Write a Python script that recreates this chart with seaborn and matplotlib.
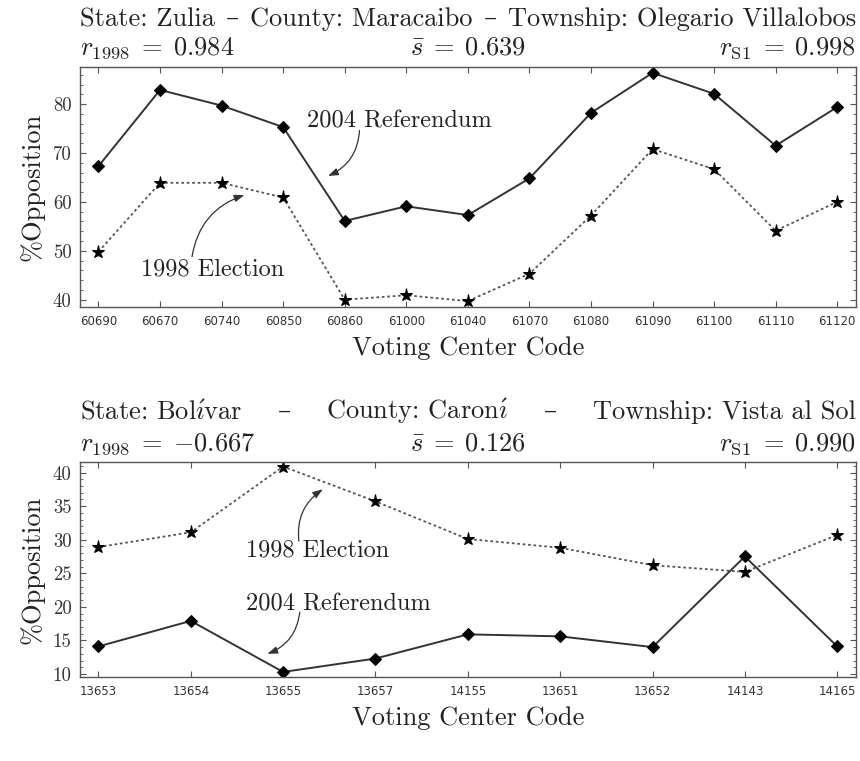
import matplotlib
matplotlib.use("Agg")
import matplotlib.pyplot as plt
import seaborn as sns
import pandas as pd
from matplotlib.ticker import MultipleLocator

# ---------------- data ----------------
zulia_codes = ["60690", "60670", "60740", "60850", "60860", "61000", "61040",
               "61070", "61080", "61090", "61100", "61110", "61120"]
zulia_2004 = [67.3, 82.9, 79.7, 75.3, 56.1, 59.1, 57.3, 64.8, 78.2, 86.4, 82.1, 71.5, 79.4]
zulia_1998 = [49.8, 63.9, 63.9, 60.9, 40.0, 40.9, 39.7, 45.3, 57.2, 70.8, 66.7, 54.1, 60.0]

bolivar_codes = ["13653", "13654", "13655", "13657", "14155", "13651", "13652", "14143", "14165"]
bolivar_2004 = [14.1, 17.9, 10.3, 12.3, 15.9, 15.6, 14.0, 27.5, 14.1]
bolivar_1998 = [28.9, 31.1, 40.9, 35.7, 30.1, 28.8, 26.2, 25.2, 30.7]

zulia_title = ["State: Zulia", "\u2013", "County: Maracaibo", "\u2013", "Township: Olegario Villalobos"]
bolivar_title = [r"State: Bol$\acute{\imath}$var", "\u2013", r"County: Caron$\acute{\imath}$",
                 "\u2013", "Township: Vista al Sol"]
zulia_stats = [r"$r_{1998}\;=\;0.984$", r"$\bar{s}\;=\;0.639$", r"$r_{\mathrm{S1}}\;=\;0.998$"]
bolivar_stats = [r"$r_{1998}\;=\;{-0.667}$", r"$\bar{s}\;=\;0.126$", r"$r_{\mathrm{S1}}\;=\;0.990$"]

# ---------------- style ----------------
sns.set_theme(style="white")
plt.rcParams["font.family"] = ["cmr10", "DejaVu Serif"]
plt.rcParams["mathtext.fontset"] = "cm"
plt.rcParams["axes.formatter.use_mathtext"] = True
plt.rcParams["axes.unicode_minus"] = True

FRAME = "#555555"
TC = "#222222"
fig = plt.figure(figsize=(8.6, 7.61), dpi=100)
ax1 = fig.add_axes([0.093, 0.5966, 0.902, 0.3154])
ax2 = fig.add_axes([0.093, 0.1104, 0.902, 0.2825])


def draw(ax, codes, v2004, v1998, ylim, xlim, yticks, yminor):
    df = pd.DataFrame({"pos": list(range(len(codes))) * 2,
                       "val": list(v2004) + list(v1998),
                       "series": ["2004"] * len(codes) + ["1998"] * len(codes)})
    sns.lineplot(data=df[df.series == "1998"], x="pos", y="val", ax=ax, sort=False,
                 color="#555555", linestyle=(0, (1.5, 1.5)), linewidth=1.3,
                 marker="*", markersize=9.5, markerfacecolor="black",
                 markeredgecolor="black", legend=False)
    sns.lineplot(data=df[df.series == "2004"], x="pos", y="val", ax=ax, sort=False,
                 color="#333333", linestyle="-", linewidth=1.4,
                 marker="D", markersize=6, markerfacecolor="black",
                 markeredgecolor="black", legend=False)
    ax.set_xlim(*xlim)
    ax.set_ylim(*ylim)
    ax.set_xticks(range(len(codes)))
    ax.set_xticklabels(codes, fontfamily=["Liberation Sans Narrow", "DejaVu Sans"],
                       fontsize=8.5, color="#333333")
    ax.set_yticks(yticks)
    ax.set_yticklabels([str(t) for t in yticks], fontsize=13.5, color="#333333")
    ax.yaxis.set_minor_locator(MultipleLocator(yminor))
    ax.tick_params(which="both", direction="in", top=True, right=True,
                   bottom=True, left=True, color=FRAME)
    ax.tick_params(which="major", length=4, width=0.8, pad=6)
    ax.tick_params(which="minor", length=2, width=0.6)
    for s in ax.spines.values():
        s.set_color(FRAME)
        s.set_linewidth(1.0)
    ax.set_xlabel("Voting Center Code", fontsize=19, color=TC, labelpad=6)
    ax.set_ylabel("%Opposition", fontsize=19, color=TC, labelpad=6)


draw(ax1, zulia_codes, zulia_2004, zulia_1998, (38.5, 87.6), (-0.3, 12.3),
     [40, 50, 60, 70, 80], 2)
draw(ax2, bolivar_codes, bolivar_2004, bolivar_1998, (9.55, 41.57), (-0.2, 8.2),
     [10, 15, 20, 25, 30, 35, 40], 1)


def justify(ax, pieces, y, fs):
    """Spread pieces across the full axes width with equal gaps."""
    texts = [ax.text(0, y, p, transform=ax.transAxes, ha="left", va="baseline",
                     fontsize=fs, color=TC) for p in pieces]
    fig.canvas.draw()
    r = fig.canvas.get_renderer()
    axw = ax.get_window_extent(r).width
    widths = [t.get_window_extent(r).width / axw for t in texts]
    gap = (1.0 - sum(widths)) / (len(pieces) - 1)
    x = 0.0
    for t, w in zip(texts, widths):
        t.set_x(x)
        x += w + gap


def stats(ax, items, y, fs):
    for p, xx, ha in zip(items, [0.0, 0.5, 1.0], ["left", "center", "right"]):
        ax.text(xx, y, p, transform=ax.transAxes, ha=ha, va="baseline",
                fontsize=fs, color=TC)


justify(ax1, zulia_title, 1.17, 19)
stats(ax1, zulia_stats, 1.05, 19)
justify(ax2, bolivar_title, 1.20, 19)
stats(ax2, bolivar_stats, 1.055, 19)

# ---- annotations ----
FS_A = 17.5
arrow = dict(arrowstyle="-|>,head_length=0.5,head_width=0.18", color="#333333",
             lw=0.9, connectionstyle="arc3,rad=-0.3", shrinkA=0, shrinkB=0)
ax1.text(3.38, 76.4, "2004 Referendum", ha="left", va="center", fontsize=FS_A, color=TC)
ax1.annotate("", xy=(3.73, 65.3), xytext=(4.24, 74.6), arrowprops=arrow)
ax1.text(0.69, 46.2, "1998 Election", ha="left", va="center", fontsize=FS_A, color=TC)
ax1.annotate("", xy=(2.37, 61.4), xytext=(1.52, 48.8), arrowprops=arrow)

ax2.text(1.6, 28.35, "1998 Election", ha="left", va="center", fontsize=FS_A, color=TC)
ax2.annotate("", xy=(2.43, 37.5), xytext=(2.17, 29.8), arrowprops=arrow)
ax2.text(1.6, 20.4, "2004 Referendum", ha="left", va="center", fontsize=FS_A, color=TC)
ax2.annotate("", xy=(1.83, 13.0), xytext=(2.18, 19.2), arrowprops=arrow)

fig.savefig("out.png", dpi=100)
